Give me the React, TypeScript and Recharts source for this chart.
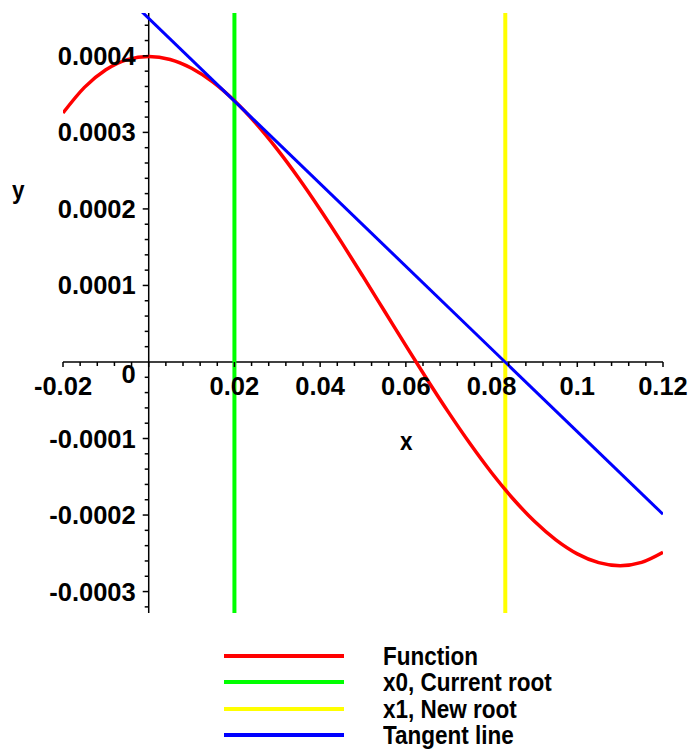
import React from "react";
import { LineChart, Line, XAxis, YAxis, ReferenceDot } from "recharts";

// f(x)
const fnX = [
  -0.02, -0.015, -0.01, -0.005, 0, 0.005, 0.01, 0.015, 0.02, 0.025, 0.03, 0.035, 0.04, 0.045, 0.05,
  0.055, 0.06, 0.065, 0.07, 0.075, 0.08, 0.085, 0.09, 0.095, 0.1, 0.105, 0.11, 0.115, 0.12,
];
const fnY = [
  0.0003253, 0.0003588, 0.0003818, 0.0003951, 0.0003993, 0.0003953, 0.0003838, 0.0003656, 0.0003413,
  0.0003118, 0.0002778, 0.0002401, 0.0001993, 0.0001563, 0.0001118, 0.0000666, 0.0000213, -0.0000232,
  -0.0000662, -0.0001069, -0.0001447, -0.0001787, -0.0002082, -0.0002324, -0.0002507, -0.0002622,
  -0.0002662, -0.0002619, -0.0002487,
];

const tangentX = [-0.02, 0.12];
const tangentY = [0.000557, -0.000199];

const x0X = [0.02, 0.02];
const x1X = [0.0832, 0.0832];
const rootY = [-0.000328, 0.000456];

const xMajor = [-0.02, 0, 0.02, 0.04, 0.06, 0.08, 0.1, 0.12];
const xLabels = ["-0.02", "", "0.02", "0.04", "0.06", "0.08", "0.1", "0.12"];
const xMinor = [
  -0.016, -0.012, -0.008, -0.004, 0.004, 0.008, 0.012, 0.016, 0.024, 0.028, 0.032, 0.036, 0.044,
  0.048, 0.052, 0.056, 0.064, 0.068, 0.072, 0.076, 0.084, 0.088, 0.092, 0.096, 0.104, 0.108,
  0.112, 0.116,
];
const yMajor = [-0.0003, -0.0002, -0.0001, 0, 0.0001, 0.0002, 0.0003, 0.0004];
const yLabels = ["-0.0003", "-0.0002", "-0.0001", "0", "0.0001", "0.0002", "0.0003", "0.0004"];
const yMinor = [
  -0.00032, -0.00028, -0.00026, -0.00024, -0.00022, -0.00018, -0.00016, -0.00014, -0.00012,
  -0.00008, -0.00006, -0.00004, -0.00002, 0.00002, 0.00004, 0.00006, 0.00008, 0.00012, 0.00014,
  0.00016, 0.00018, 0.00022, 0.00024, 0.00026, 0.00028, 0.00032, 0.00034, 0.00036, 0.00038,
  0.00042, 0.00044,
];

const legendNames = ["Function", "x0, Current root", "x1, New root", "Tangent line"];
const legendColors = ["#ff0000", "#00ff00", "#ffff00", "#0000ff"];

const fnData = fnX.map((x, i) => ({ x, y: fnY[i] }));
const tangentData = tangentX.map((x, i) => ({ x, y: tangentY[i] }));
const x0Data = x0X.map((x, i) => ({ x, y: rootY[i] }));
const x1Data = x1X.map((x, i) => ({ x, y: rootY[i] }));

const FONT = "'Liberation Sans', Arial, sans-serif";
const TICK_SIZE = 25.5;

const xTick = (label: string, major: boolean) => (props: any) => {
  const { cx, cy } = props;
  return (
    <g>
      <line x1={cx} x2={cx} y1={cy} y2={cy + (major ? 5 : 4)} stroke="#000" strokeWidth={1.5} />
      {label ? (
        <text x={cx} y={cy + 33} textAnchor="middle" fontSize={TICK_SIZE} fontWeight="bold" fontFamily={FONT} fill="#000">
          {label}
        </text>
      ) : null}
    </g>
  );
};

const yTick = (label: string, major: boolean, isZero: boolean) => (props: any) => {
  const { cx, cy } = props;
  return (
    <g>
      {!isZero && (
        <line x1={cx} x2={cx - (major ? 6 : 4)} y1={cy} y2={cy} stroke="#000" strokeWidth={1.5} />
      )}
      {label ? (
        <text
          x={cx - 13}
          y={cy + (isZero ? 21 : 9)}
          textAnchor="end"
          fontSize={TICK_SIZE}
          fontWeight="bold"
          fontFamily={FONT}
          fill="#000"
        >
          {label}
        </text>
      ) : null}
    </g>
  );
};

const textStyle: React.CSSProperties = {
  fontFamily: FONT,
  fontWeight: "bold",
  fontSize: 25,
  transform: "scaleX(0.9)",
  transformOrigin: "left center",
  whiteSpace: "nowrap",
};

export default function App() {
  return (
    <div style={{ position: "absolute", left: 0, top: 0, width: 693, height: 749, background: "#fff" }}>
      <LineChart width={693} height={749} margin={{ top: 13, right: 30, bottom: 136, left: 63 }}>
        <XAxis type="number" dataKey="x" domain={[-0.02, 0.12]} hide allowDataOverflow />
        <YAxis type="number" dataKey="y" domain={[-0.000328, 0.000456]} hide allowDataOverflow />
        <Line
          data={[{ x: -0.02, y: 0 }, { x: 0.12, y: 0 }]}
          dataKey="y"
          stroke="#000"
          strokeWidth={1.5}
          dot={false}
          isAnimationActive={false}
        />
        <Line
          data={[{ x: 0, y: -0.000328 }, { x: 0, y: 0.000456 }]}
          dataKey="y"
          stroke="#000"
          strokeWidth={1.5}
          dot={false}
          isAnimationActive={false}
        />
        {xMinor.map((v) => (
          <ReferenceDot key={"xm" + v} x={v} y={0} r={0} shape={xTick("", false)} />
        ))}
        {xMajor.map((v, i) => (
          <ReferenceDot key={"xM" + v} x={v} y={0} r={0} shape={xTick(xLabels[i], true)} />
        ))}
        {yMinor.map((v) => (
          <ReferenceDot key={"ym" + v} x={0} y={v} r={0} shape={yTick("", false, false)} />
        ))}
        {yMajor.map((v, i) => (
          <ReferenceDot key={"yM" + v} x={0} y={v} r={0} shape={yTick(yLabels[i], true, v === 0)} />
        ))}
        <Line data={x0Data} dataKey="y" stroke="#00ff00" strokeWidth={4} dot={false} isAnimationActive={false} />
        <Line data={x1Data} dataKey="y" stroke="#ffff00" strokeWidth={4} dot={false} isAnimationActive={false} />
        <Line
          data={fnData}
          dataKey="y"
          type="monotone"
          stroke="#ff0000"
          strokeWidth={3.5}
          dot={false}
          isAnimationActive={false}
        />
        <Line data={tangentData} dataKey="y" stroke="#0000ff" strokeWidth={3} dot={false} isAnimationActive={false} />
      </LineChart>
      <div style={{ ...textStyle, position: "absolute", left: 12, top: 176 }}>y</div>
      <div style={{ ...textStyle, position: "absolute", left: 400, top: 427 }}>x</div>
      <div style={{ position: "absolute", left: 224, top: 643 }}>
        {legendNames.map((name, i) => (
          <div key={name} style={{ display: "flex", alignItems: "center", height: 26.3 }}>
            <div style={{ width: 120, height: 4, background: legendColors[i], marginRight: 39, flex: "none" }} />
            <span style={{ ...textStyle, lineHeight: "26px" }}>{name}</span>
          </div>
        ))}
      </div>
    </div>
  );
}
